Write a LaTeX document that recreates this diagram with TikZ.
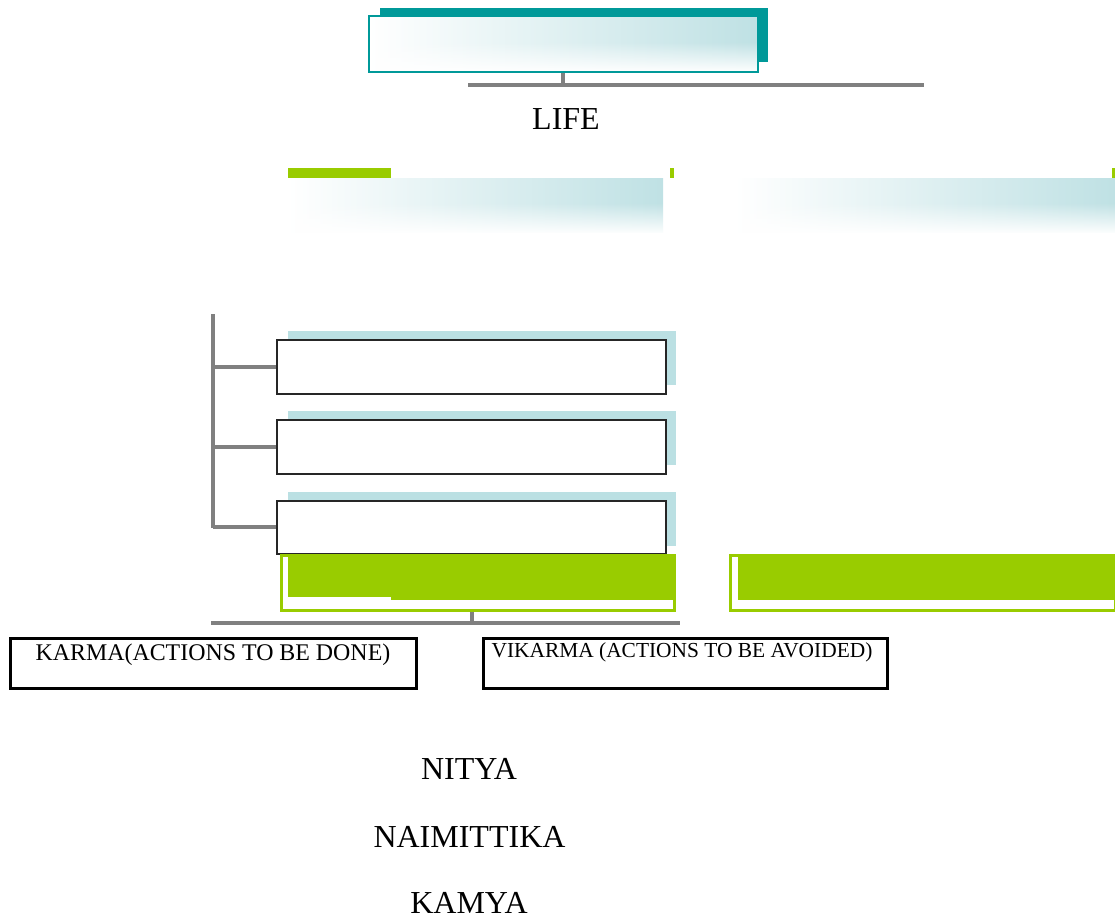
\documentclass[tikz,border=0pt]{standalone}
\usepackage{fontspec}
\setmainfont{Liberation Serif}
\usetikzlibrary{fadings}
\definecolor{tealc}{HTML}{009999}
\definecolor{greenc}{HTML}{99CC00}
\definecolor{grayc}{HTML}{808080}
\definecolor{shadowc}{HTML}{BBE0E3}
\definecolor{gradc}{HTML}{BFE1E4}
\tikzset{
  grayline/.style={draw=grayc, line width=4pt},
  blackbox/.style={draw=black!85, line width=1.8pt, fill=white, inner sep=0pt, anchor=north west},
  wordbox/.style={draw=black, line width=3.3pt, inner sep=0pt, anchor=north west, minimum width=406pt, minimum height=50pt},
  greenframe/.style={draw=greenc, line width=3pt, inner sep=0pt, anchor=north west},
  bigword/.style={anchor=base, inner sep=0pt, font=\fontsize{32}{38}\selectfont},
}
\begin{document}
\begin{tikzpicture}[x=1pt,y=-1pt]
\useasboundingbox (0,0) rectangle (1115,918);
% ---------- top box ----------
\fill[tealc] (380,8) rectangle (768,62);
\shade[left color=white, right color=gradc] (368,15) rectangle (757,71);
\fill[white, path fading=north] (368,42) rectangle (757,72);
\node[draw=tealc, line width=1.5pt, inner sep=0pt, anchor=north west,
      minimum width=389pt, minimum height=56pt] (top) at (368,15) {};
\coordinate (barT) at (563,85);
\coordinate (barTL) at (468,85);
\coordinate (barTR) at (924,85);
\draw[grayline] (top.south -| barT) -- (barT);
\draw[grayline] (barTL) -- (barTR);
\node[bigword] (life) at (566,129) {LIFE};
% ---------- green row and gradient bands ----------
\fill[greenc] (288,168) rectangle (391,178);
\fill[greenc] (670,168) rectangle (674,178);
\fill[greenc] (1112,168) rectangle (1115,178);
\shade[left color=white, right color=gradc] (288,178) rectangle (663,232);
\fill[white, path fading=north] (287,203) rectangle (664,234);
\shade[left color=white, right color=gradc] (735,178) rectangle (1115,232);
\fill[white, path fading=north] (734,203) rectangle (1116,234);
% ---------- three boxes ----------
\fill[shadowc] (288,331) rectangle (676,385);
\fill[shadowc] (288,411) rectangle (676,465);
\fill[shadowc] (288,492) rectangle (676,546);
\node[blackbox, minimum width=389pt, minimum height=54pt] (b1) at (276,339) {};
\node[blackbox, minimum width=389pt, minimum height=54pt] (b2) at (276,419) {};
\node[blackbox, minimum width=389pt, minimum height=53pt] (b3) at (276,500) {};
\coordinate (brT) at (213,314);
\coordinate (brB) at (213,528);
\draw[grayline] (brT) -- (brB);
\draw[grayline] (b1.west -| brT) -- (b1.west);
\draw[grayline] (b2.west -| brT) -- (b2.west);
\draw[grayline] (b3.west -| brT) -- (b3.west);
% ---------- green bottom blocks ----------
\node[greenframe, minimum width=393pt, minimum height=54.5pt] (gL) at (279.5,554) {};
\fill[greenc] (288,554) rectangle (391,597);
\fill[greenc] (391,554) rectangle (673,600);
\node[greenframe, minimum width=385pt, minimum height=54.5pt] (gR) at (728.5,554) {};
\fill[greenc] (738,554) rectangle (1115,600);
\coordinate (barB) at (472,623);
\coordinate (barBL) at (211,623);
\coordinate (barBR) at (680,623);
\draw[grayline, line width=3.5pt] (barB |- gL.south) -- (barB);
\draw[grayline, line width=3.5pt] (barBL) -- (barBR);
% ---------- word boxes ----------
\node[wordbox] (karma) at (8.5,636.5) {};
\node[anchor=base, inner sep=0pt, font=\fontsize{23.9}{28}\selectfont] (karmaT) at (213,660) {KARMA(ACTIONS TO BE DONE)};
\node[wordbox, minimum width=404pt] (vikarma) at (481.5,636.5) {};
\node[anchor=base, inner sep=0pt, font=\fontsize{21.4}{26}\selectfont] (vikarmaT) at (682,657) {VIKARMA (ACTIONS TO BE AVOIDED)};
% ---------- lower words ----------
\node[bigword] (nitya) at (469,779) {NITYA};
\node[bigword] (naim) at (469.5,847) {NAIMITTIKA};
\node[bigword] (kamya) at (469,913) {KAMYA};
\end{tikzpicture}
\end{document}
